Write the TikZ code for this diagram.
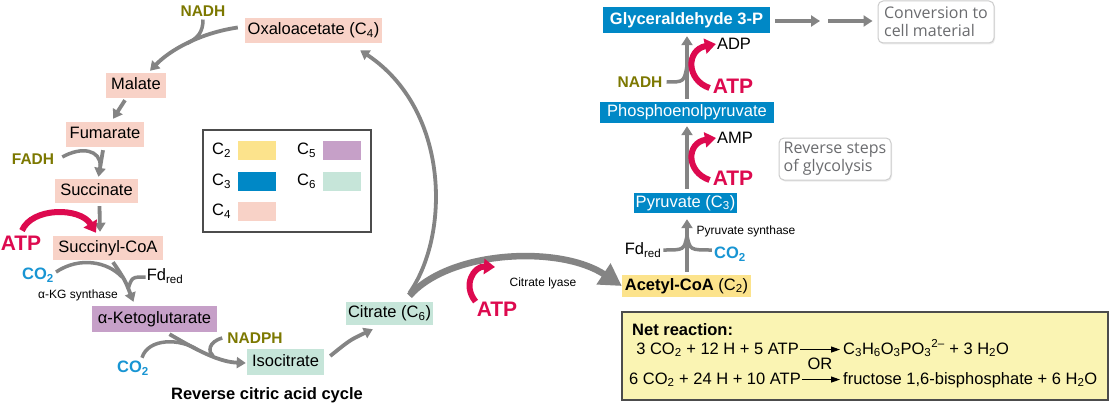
\documentclass[tikz,border=0pt]{standalone}
\usepackage{fontspec}
\setmainfont{Liberation Sans}
\newfontfamily\notefont{Open Sans}
\usetikzlibrary{positioning,arrows.meta,calc,shadows}
\definecolor{cfour}{HTML}{F8D2C7}
\definecolor{cfive}{HTML}{C6A0C8}
\definecolor{csix}{HTML}{C6E5D9}
\definecolor{ctwo}{HTML}{FCE38C}
\definecolor{cthree}{HTML}{0088C6}
\definecolor{flow}{HTML}{848484}
\definecolor{energy}{HTML}{DD0A4F}
\definecolor{reducer}{HTML}{7C7800}
\definecolor{carbon}{HTML}{1895D3}
\definecolor{notegray}{HTML}{6B6C6F}
\definecolor{netfill}{HTML}{FAF4B3}
\newcommand{\sz}[1]{\fontsize{#1}{#1}\selectfont}
\tikzset{
  met/.style={fill=#1,inner sep=0pt,text height=12pt,text depth=3.5pt,font=\sz{16.5}},
  met/.default=cfour,
  flowarrow/.style={draw=flow,line width=3.8pt,-{Triangle[length=9pt,width=11pt]}},
  flowline/.style={draw=flow,line width=3.5pt},
  atparrow/.style={draw=energy,line width=6pt,-{Triangle[length=11pt,width=15pt]}},
  cofac/.style={font=\sz{15.5}\bfseries,text=#1,inner sep=0pt},
  cofac/.default=reducer,
  carbonlab/.style={font=\sz{16.5}\bfseries,text=carbon,inner sep=0pt},
  atplab/.style={font=\sz{21}\bfseries,text=energy,inner sep=0pt},
  labeltext/.style={font=\sz{16.5},inner sep=0pt},
  enzyme/.style={font=\sz{12},inner sep=0pt},
  notebox/.style={rounded corners=5pt,draw=black!20,line width=1pt,fill=white,
                  drop shadow={shadow xshift=1pt,shadow yshift=-1.5pt,opacity=0.15},
                  align=left,inner sep=0pt,text=notegray,font=\notefont\fontsize{16}{18}\selectfont},
  react/.style={-{Triangle[length=9pt,width=6pt]},line width=1pt},
}
\begin{document}
\begin{tikzpicture}[x=1pt,y=-1pt]
  \path[fill=white,use as bounding box] (0,0) rectangle (1110,404);
  % Cycle intermediates
  \node[met,minimum width=137pt,minimum height=25pt] (oxa) at (313.5,30.5) {Oxaloacetate (C\textsubscript{4})};
  \node[met,minimum width=60pt,minimum height=25pt] (mal) at (136,85.5) {Malate};
  \node[met,minimum width=78pt,minimum height=25pt] (fum) at (105,134.5) {Fumarate};
  \node[met,minimum width=83pt,minimum height=24pt] (suc) at (96.5,191) {Succinate};
  \node[met,minimum width=110pt,minimum height=24pt] (sca) at (108,248) {Succinyl-CoA};
  \node[met=cfive,minimum width=125pt,minimum height=26pt] (akg) at (154.5,319) {α-Ketoglutarate};
  \node[met=csix,minimum width=77pt,minimum height=26pt] (iso) at (285.5,362) {Isocitrate};
  \node[met=csix,minimum width=87pt,minimum height=23pt] (cit) at (389.5,313.5) {Citrate (C\textsubscript{6})};
  % Acetyl-CoA and reverse glycolysis
  \node[met=ctwo,minimum width=129pt,minimum height=22pt] (aca) at (686.5,286) {\textbf{Acetyl-CoA} (C\textsubscript{2})};
  \node[met=cthree,text=white,minimum width=103pt,minimum height=20pt] (pyr) at (685.5,203) {Pyruvate (C\textsubscript{3})};
  \node[met=cthree,text=white,minimum width=174pt,minimum height=21pt] (pep) at (687,112.5) {Phosphoenolpyruvate};
  \node[met=cthree,text=white,font=\sz{16.5}\bfseries,minimum width=167pt,minimum height=26pt] (g3p) at (686.5,20) {Glyceraldehyde 3-P};
  % Cofactors and enzymes
  \node[cofac] (nadha) at (203,11) {NADH};
  \node[cofac] (fadh) at (33,159) {FADH};
  \node[atplab] (atpa) at (21,243) {ATP};
  \node[carbonlab] (co2a) at (38,275) {CO\textsubscript{2}};
  \node[enzyme] (kgs) at (78,295) {α-KG synthase};
  \node[labeltext] (fda) at (165,276) {Fd\textsubscript{red}};
  \node[cofac] (nadph) at (255,338) {NADPH};
  \node[carbonlab] (co2b) at (133,368) {CO\textsubscript{2}};
  \node[font=\sz{16.5}\bfseries,inner sep=0pt] (title) at (267,395) {Reverse citric acid cycle};
  \node[atplab] (atpb) at (497,309) {ATP};
  \node[enzyme] (lyase) at (543,283) {Citrate lyase};
  \node[labeltext] (fdb) at (643,250) {Fd\textsubscript{red}};
  \node[carbonlab] (co2c) at (730,254) {CO\textsubscript{2}};
  \node[enzyme] (pys) at (746,231) {Pyruvate synthase};
  \node[atplab] (atpc) at (733,178) {ATP};
  \node[labeltext] (amp) at (735,138) {AMP};
  \node[atplab] (atpd) at (733,86) {ATP};
  \node[labeltext] (adp) at (734,44) {ADP};
  \node[cofac] (nadhb) at (640,82) {NADH};
  % Notes
  \node[notebox,minimum width=116pt,minimum height=42pt] (conv) at (936,22) {Conversion to\\cell material};
  \node[notebox,minimum width=112pt,minimum height=42pt] (rev) at (835,159) {Reverse steps\\of glycolysis};
  % Key
  \node[draw=black!70,line width=1.5pt,minimum width=168pt,minimum height=102pt,inner sep=0pt] (key) at (287,181) {};
  \foreach \n/\col/\cx/\cy in {2/ctwo/0/0,5/cfive/1/0,3/cthree/0/1,6/csix/1/1,4/cfour/0/2}{
    \node[labeltext,anchor=west] (k\n) at (212+85*\cx,150.5+30.5*\cy) {C\textsubscript{\n}};
    \node[fill=\col,minimum width=38pt,minimum height=19pt,inner sep=0pt] (s\n) at (257+85*\cx,150.5+30.5*\cy) {};
  }
  % Net reaction
  \node[draw=black!70,fill=netfill,line width=1.5pt,minimum width=486pt,minimum height=88pt,inner sep=0pt] (net) at (865,356) {};
  \node[font=\sz{16.5}\bfseries,inner sep=0pt,anchor=base west] (nettitle) at (632,335) {Net reaction:};
  \node[labeltext,anchor=base east] (la) at (799,354) {3 CO\textsubscript{2} + 12 H + 5 ATP};
  \node[labeltext,anchor=base west] (ra) at (843,354) {C\textsubscript{3}H\textsubscript{6}O\textsubscript{3}PO\textsubscript{3}\textsuperscript{2–} + 3 H\textsubscript{2}O};
  \node[labeltext] (or) at (820,363.5) {OR};
  \node[labeltext,anchor=base east] (lb) at (801,384) {6 CO\textsubscript{2} + 24 H + 10 ATP};
  \node[labeltext,anchor=base west] (rb) at (843,384) {fructose 1,6-bisphosphate + 6 H\textsubscript{2}O};
  \draw[react] ([xshift=1pt]la.east) -- ([xshift=-3pt]la.east -| ra.west);
  \draw[react] ([xshift=1pt]lb.east) -- ([xshift=-3pt]lb.east -| rb.west);
  % Oxaloacetate to succinyl-CoA
  \coordinate (j1) at (187,43.5);
  \draw[flowarrow] ($(oxa.west)+(-7,-3)$) .. controls (200,33) and (170,50) .. ($(mal.north)+(14,-2)$);
  \draw[flowline] ($(nadha.south)+(0,3)$) .. controls (203,32) and (198,38) .. (j1);
  \draw[flowarrow] ($(mal.south)+(-11,2)$) -- ($(fum.north)+(8,-3)$);
  \coordinate (j2) at (100.3,166);
  \draw[flowarrow] ($(fum.south)+(-2,3)$) -- ($(suc.north)+(2,-2)$);
  \draw[flowline] ($(fadh.east)+(8,-2)$) .. controls (82,146) and (100.5,150) .. (j2);
  \draw[flowarrow] ($(suc.south)+(3,3)$) -- ($(sca.north)+(-8,-4)$);
  \draw[atparrow] ($(atpa.north)+(1,-5)$) .. controls (32,207) and (80,207) .. ($(sca.north)+(-12,-3)$);
  % Succinyl-CoA to isocitrate
  \coordinate (j3) at (122,277);
  \coordinate (j4) at (128,289);
  \draw[flowarrow] ($(sca.south)+(5,2)$) .. controls (125,280) .. ($(akg.north)+(-21,-4)$);
  \draw[flowline] ($(co2a.east)+(2,-3)$) .. controls (80,256) and (108,262) .. (j3);
  \draw[flowline] ($(fda.west)+(-1,1)$) .. controls (132,277) .. (j4);
  \coordinate (j5) at (198,350);
  \coordinate (j6) at (213,356);
  \draw[flowarrow] ($(akg.south)+(15,2)$) .. controls (200,352) and (220,362) .. ($(iso.west)+(-1,1)$);
  \draw[flowline] ($(co2b.north)+(9,-3)$) .. controls (148,338) and (180,338) .. (j5);
  \draw[flowline] ($(nadph.west)+(-5,0)$) .. controls (208,342) and (208,352) .. (j6);
  % Isocitrate to citrate and back to oxaloacetate
  \draw[flowarrow] ($(iso.east)+(6,-6)$) .. controls (350,340) .. ($(cit.south west)+(27,4)$);
  \draw[flowarrow] ($(cit.north)+(20,-9)$) .. controls (450,235) and (450,110) .. ($(oxa.south east)+(-22,7)$);
  % Citrate lyase
  \draw[flowarrow,line width=6.5pt,-{Triangle[length=22pt,width=24pt]}] ($(cit.north)+(20,-6)$) .. controls (450,250) and (560,245) .. (aca.west);
  \coordinate (atpbend) at (495,267);
  \draw[atparrow] ($(atpb.north west)+(-1,0)$) .. controls (462,285) and (474,266) .. (atpbend);
  % Pyruvate synthase
  \coordinate (j7) at (687,236);
  \draw[flowarrow] ($(aca.north)+(0.5,-3)$) -- ($(pyr.south)+(1.5,6)$);
  \draw[flowline] ($(fdb.east)+(2,0)$) .. controls (684,250) .. (j7);
  \draw[flowline] ($(co2c.west)+(-2,-4)$) .. controls (690,250) .. (j7);
  % Reverse steps of glycolysis
  \draw[flowarrow] ($(pyr.north)+(1.5,-4)$) -- ($(pep.south)+(0,3)$);
  \draw[atparrow] ($(atpc.west)+(-3,2)$) .. controls (686,172) and (686,143) .. ($(amp.west)+(-1,0)$);
  \coordinate (j8) at (687,66);
  \draw[flowarrow] ($(pep.north)+(0,-3)$) -- ($(g3p.south)+(0.5,3)$);
  \draw[flowline] ($(nadhb.east)+(4,0)$) .. controls (684,82) .. (j8);
  \draw[atparrow] ($(atpd.west)+(-3,2)$) .. controls (686,80) and (686,50) .. ($(adp.west)+(-1,0)$);
  % Towards cell material
  \coordinate (gapl) at (820,21);
  \coordinate (gapr) at (828,21);
  \draw[flowarrow] ($(g3p.east)+(5,1)$) -- (gapl);
  \draw[flowarrow] (gapr) -- ($(conv.west)+(-5,-1)$);
\end{tikzpicture}
\end{document}
